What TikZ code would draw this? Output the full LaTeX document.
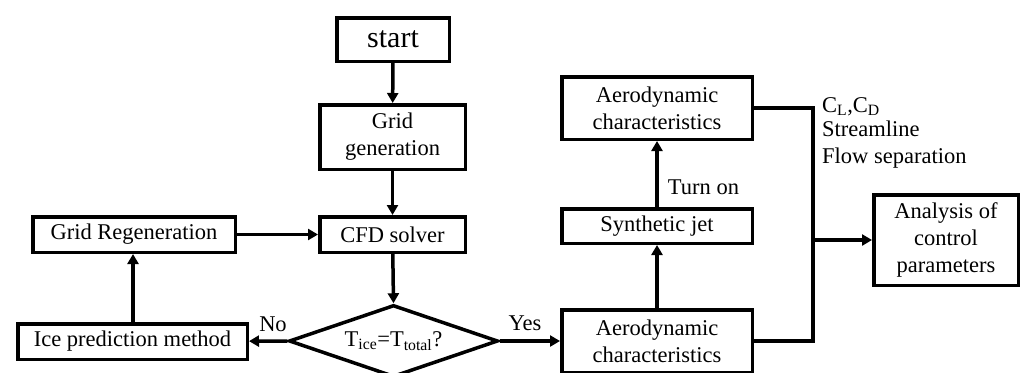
\documentclass[tikz,border=0pt]{standalone}
\usepackage{fontspec}
\setmainfont{Liberation Serif}
\usetikzlibrary{shapes.geometric,arrows.meta}
\begin{document}
\begin{tikzpicture}[x=1pt,y=-1pt,
  every node/.style={inner sep=0pt},
  txt/.style={font=\fontsize{22.5}{27}\selectfont, align=center},
  box/.style={txt, draw, line width=3.5pt, rectangle},
  arr/.style={line width=3.5pt, -{Triangle[length=10pt,width=11pt]}},
  ln/.style={line width=3.5pt}]
\clip (0,0) rectangle (1024,372);
\fill[white] (0,0) rectangle (1024,372);
\node[box, font=\fontsize{30}{34}\selectfont, minimum width=112.5pt, minimum height=43.5pt] (start) at (393,39.5) {start};
\node[box, minimum width=145.5pt, minimum height=64.5pt] (grid) at (392.5,137) {Grid\\generation};
\node[box, minimum width=145.5pt, minimum height=35.5pt] (cfd) at (392.5,234.5) {CFD solver};
\node[box, minimum width=202.5pt, minimum height=35.5pt] (regen) at (134,234.5) {Grid Regeneration};
\node[box, minimum width=229.5pt, minimum height=35.5pt] (ice) at (132.5,341.5) {Ice prediction method};
\node[txt, draw, line width=3.5pt, diamond, aspect=2.88, minimum width=209pt, minimum height=72pt] (dec) at (393.5,341)
  {T\textsubscript{ice}=T\textsubscript{total}?};
\node[box, minimum width=190.5pt, minimum height=62.5pt] (aerot) at (657,108) {Aerodynamic\\characteristics};
\node[box, minimum width=190.5pt, minimum height=34.5pt] (syn) at (657,226) {Synthetic jet};
\node[box, minimum width=190.5pt, minimum height=62.5pt] (aerob) at (657,341) {Aerodynamic\\characteristics};
\node[box, minimum width=144.5pt, minimum height=90.5pt] (ana) at (946,240) {Analysis of\\control\\parameters};
\draw[arr] (start) -- (grid);
\draw[arr] (grid) -- (cfd);
\draw[arr] (cfd) -- (dec.north);
\draw[arr] (regen) -- (cfd);
\draw[arr] (dec.west) -- (ice);
\draw[arr] (ice.north -| 133,0) -- (regen.south -| 133,0);
\draw[arr] (dec.east) -- (aerob);
\draw[arr] (aerob) -- (syn);
\draw[arr] (syn) -- (aerot);
\coordinate (j) at (813,240);
\draw[ln] (aerot.east) -| (j) |- (aerob.east);
\draw[arr] (j) -- (ana);
\node[txt] (no) at (273,324) {No};
\node[txt] (yes) at (525,323) {Yes};
\node[txt] (turn) at (703.5,187) {Turn on};
\node[txt, align=left, anchor=north west] (out) at (822,97)
  {C\textsubscript{L},C\textsubscript{D}\\[-3pt]Streamline\\Flow separation};
\end{tikzpicture}
\end{document}
